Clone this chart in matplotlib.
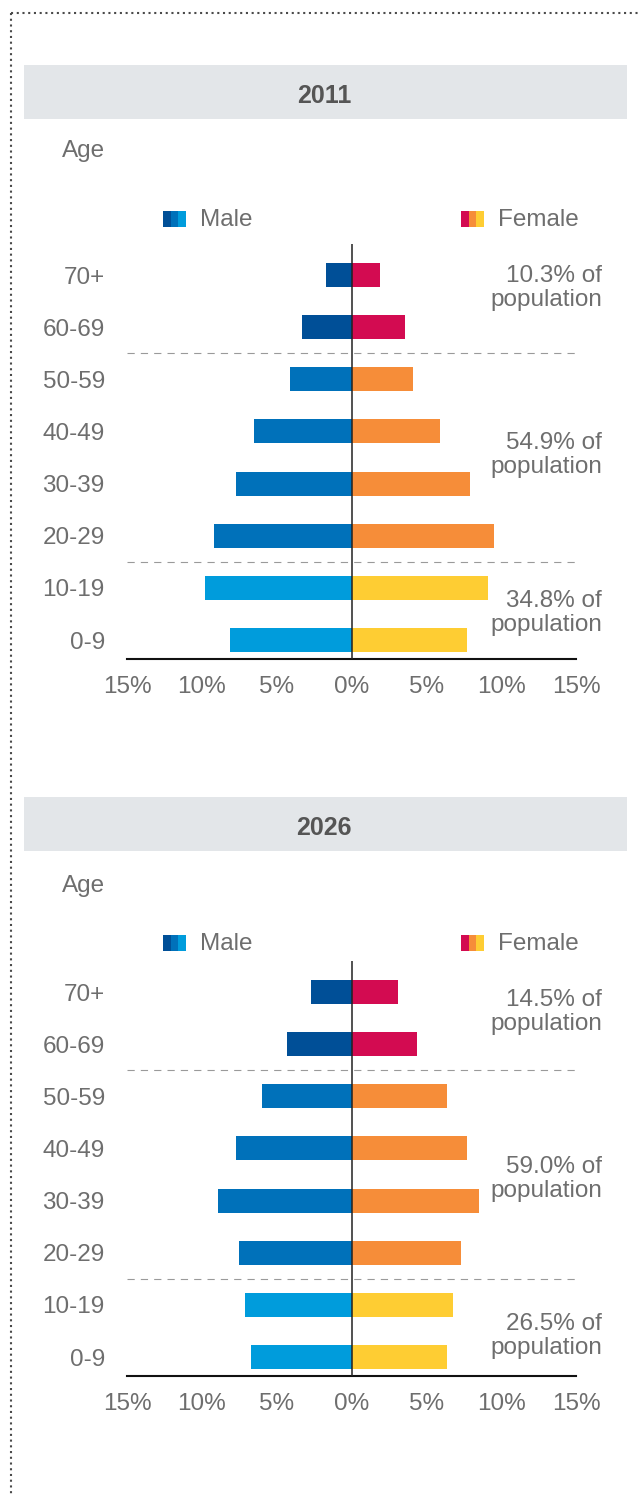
import matplotlib
matplotlib.use("Agg")
import matplotlib.pyplot as plt
from matplotlib.patches import Rectangle
from matplotlib.lines import Line2D

plt.rcParams['font.family'] = ['Liberation Sans', 'DejaVu Sans']

# age bands, bottom to top
ages = ["0-9", "10-19", "20-29", "30-39", "40-49", "50-59", "60-69", "70+"]

# share of total population (%) by sex and age band
male_2011 = [8.1, 9.8, 9.2, 7.7, 6.5, 4.1, 3.3, 1.7]
female_2011 = [7.7, 9.1, 9.5, 7.9, 5.9, 4.1, 3.6, 1.9]
male_2026 = [6.7, 7.1, 7.5, 8.9, 7.7, 6.0, 4.3, 2.7]
female_2026 = [6.4, 6.8, 7.3, 8.5, 7.7, 6.4, 4.4, 3.1]

# summary per group of bands: young (0-19), working (20-59), old (60+)
groups_2011 = ["34.8% of\npopulation", "54.9% of\npopulation", "10.3% of\npopulation"]
groups_2026 = ["26.5% of\npopulation", "59.0% of\npopulation", "14.5% of\npopulation"]

years = ["2011", "2026"]
xticks = [-15, -10, -5, 0, 5, 10, 15]

# colours: one shade per group (young, working, old)
band = [0, 0, 1, 1, 1, 1, 2, 2]
male_cols = ["#009cdc", "#0071ba", "#004f97"]
female_cols = ["#fecd33", "#f68d39", "#d30b51"]

TXT = "#6e6e6e"
FS = 17.5
W, H = 638, 1495


def fx(px):
    return px / W


def fy(py):
    return 1 - py / H


fig = plt.figure(figsize=(W / 100, H / 100), dpi=100)

# dotted frame on the top and left
dots = dict(color="#4a4a4a", lw=1.5, linestyle=(0, (1, 1.75)), transform=fig.transFigure)
fig.add_artist(Line2D([fx(11), fx(11)], [fy(13), 0], **dots))
fig.add_artist(Line2D([fx(11), 1], [fy(13), fy(13)], **dots))


def draw_panel(top, year, male, female, groups, group_y, ax_top, ax_bot, legend_y, age_y):
    # grey title band
    fig.add_artist(Rectangle((fx(24), fy(top + 54)), fx(627) - fx(24), 54 / H,
                             facecolor="#e3e6e9", edgecolor="none", transform=fig.transFigure))
    fig.text(fx(324), fy(top + 31), year, ha="center", va="center",
             fontsize=18, fontweight="bold", color="#555555")
    fig.text(fx(62), fy(age_y), "Age", ha="left", va="center", fontsize=FS, color=TXT)

    # legend swatches, three shades each
    for x0, cols, label in [(163, male_cols[::-1], "Male"), (461, female_cols[::-1], "Female")]:
        for k, c in enumerate(cols):
            fig.add_artist(Rectangle((fx(x0 + k * 7.7), fy(legend_y + 8)), 7.7 / W, 16 / H,
                                     facecolor=c, edgecolor="none", transform=fig.transFigure))
        fig.text(fx(x0 + 37), fy(legend_y + 1), label, ha="left", va="center",
                 fontsize=FS, color=TXT)

    ax = fig.add_axes([fx(127), fy(ax_bot), (576 - 127) / W, (ax_bot - ax_top) / H])
    y = list(range(len(ages)))
    ax.barh(y, [-v for v in male], height=0.46, color=[male_cols[b] for b in band])
    ax.barh(y, female, height=0.46, color=[female_cols[b] for b in band])
    ax.axvline(0, color="#222222", lw=1.1, zorder=3)
    for yy in (1.5, 5.5):
        ax.hlines(yy, -15, 15, color="#9a9a9a", lw=0.8, linestyles=(0, (6.5, 5.5)))

    ax.set_xlim(-15, 15)
    ax.set_ylim(-0.364, 7.595)
    ax.set_xticks(xticks)
    ax.set_xticklabels([f"{abs(t)}%" for t in xticks])
    ax.set_yticks(y)
    ax.set_yticklabels(ages)
    ax.tick_params(axis="both", length=0, labelsize=FS, labelcolor=TXT)
    ax.tick_params(axis="y", pad=16)
    ax.tick_params(axis="x", pad=12)
    for s in ("top", "right", "left"):
        ax.spines[s].set_visible(False)
    ax.spines["bottom"].set_linewidth(1.5)
    ax.spines["bottom"].set_color("#111111")

    for label, gy in zip(groups, group_y):
        ax.text(16.73, gy, label, ha="right", va="center", multialignment="right",
                fontsize=FS, color=TXT, linespacing=1.1, clip_on=False)


draw_panel(65, years[0], male_2011, female_2011, groups_2011, [0.52, 3.55, 6.75],
           ax_top=244, ax_bot=659, legend_y=219, age_y=151)
draw_panel(797, years[1], male_2026, female_2026, groups_2026, [0.40, 3.41, 6.62],
           ax_top=961, ax_bot=1376, legend_y=943, age_y=886)

fig.savefig("out.png", dpi=100)
